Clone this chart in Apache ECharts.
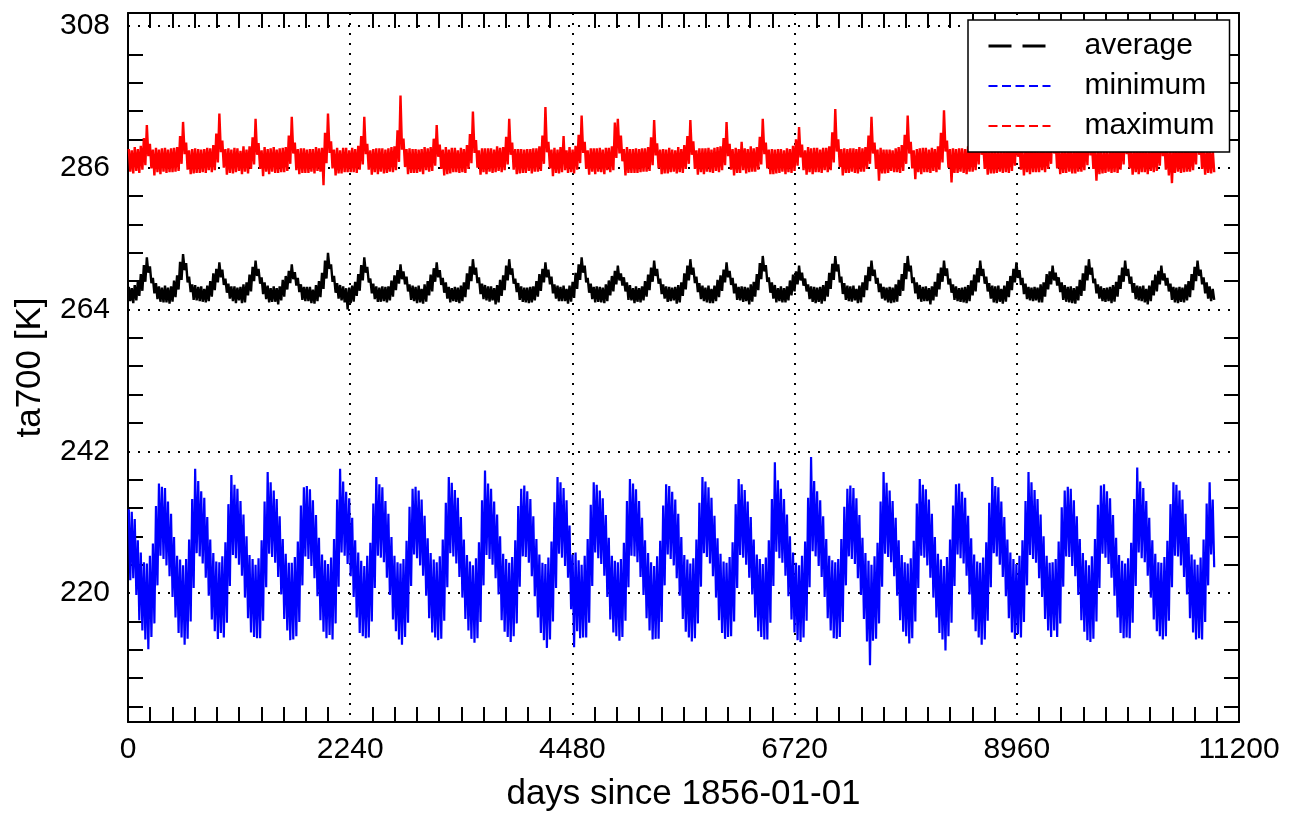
<!DOCTYPE html>
<html><head><meta charset="utf-8">
<script src="https://cdn.jsdelivr.net/npm/echarts@6/dist/echarts.min.js"></script>
<style>html,body{margin:0;padding:0;background:#fff}#chart{width:1293px;height:817px}</style>
</head><body><div id="chart"></div>
<script>
// ---- data: upper and lower edge of each month's daily band, Jan 1856 .. Dec 1885 ----
const xTickLabels = [0, 2240, 4480, 6720, 8960, 11200];
const yTickLabels = [220, 242, 264, 286, 308];
const seriesNames = ['average', 'minimum', 'maximum'];
const seriesColors = ['#000000', '#0000ff', '#ff0000'];

const averageUpper = [
267.5,267.3,267.8,268.3,269.5,270.9,272.1,270.7,268.9,268.1,267.6,267.4,
267.7,267.4,267.6,268.5,269.3,271.4,272.6,271.2,269.1,267.9,267.8,267.5,
267.6,267.2,267.7,268.4,269.6,270.3,271.3,270.2,268.8,268.0,267.6,267.6,
267.4,267.5,267.9,268.2,269.4,270.6,271.6,270.3,269.0,268.2,267.7,267.3,
267.6,267.3,267.6,268.6,269.2,270.0,271.0,269.8,268.9,267.9,267.5,267.5,
267.5,267.1,267.8,268.4,269.7,271.6,272.8,271.0,269.2,268.1,267.8,267.6,
267.3,267.4,267.7,268.3,269.5,270.9,272.1,270.6,268.8,268.0,267.6,267.4,
267.6,267.5,267.6,268.5,269.3,270.1,271.0,269.9,269.1,267.9,267.7,267.5,
267.7,267.2,267.9,268.4,269.4,270.4,271.3,270.1,268.9,268.2,267.5,267.3,
267.5,267.4,267.7,268.2,269.6,270.7,271.8,270.5,269.0,268.0,267.8,267.6,
267.6,267.3,267.8,268.6,269.3,270.8,271.8,270.4,268.8,268.1,267.6,267.4,
267.4,267.5,267.6,268.4,269.5,270.3,271.3,270.2,269.1,267.9,267.7,267.5,
267.7,267.2,267.7,268.3,269.7,271.0,272.1,270.8,268.9,268.0,267.5,267.6,
267.5,267.4,267.9,268.5,269.2,270.0,270.8,269.6,269.0,268.2,267.8,267.3,
267.6,267.3,267.6,268.4,269.4,270.5,271.6,270.3,268.8,267.9,267.6,267.5,
267.4,267.5,267.8,268.2,269.6,270.8,271.8,270.5,269.1,268.1,267.7,267.4,
267.7,267.2,267.7,268.6,269.3,270.2,271.3,270.0,268.9,268.0,267.5,267.6,
267.5,267.4,267.9,268.3,269.5,271.2,272.3,270.9,269.0,268.2,267.8,267.3,
267.6,267.3,267.6,268.5,269.4,269.9,270.8,269.7,268.8,267.9,267.6,267.5,
267.4,267.5,267.8,268.4,269.7,271.1,272.3,271.0,269.1,268.1,267.7,267.6,
267.7,267.2,267.7,268.2,269.3,270.6,271.6,270.2,268.9,268.0,267.5,267.4,
267.5,267.4,267.9,268.6,269.5,271.2,272.3,270.8,269.0,268.2,267.8,267.5,
267.6,267.3,267.6,268.3,269.6,270.5,271.6,270.4,268.8,267.9,267.6,267.3,
267.4,267.5,267.8,268.5,269.4,270.4,271.6,270.3,269.1,268.1,267.7,267.6,
267.7,267.2,267.7,268.4,269.2,270.3,271.3,270.1,268.9,268.0,267.5,267.4,
267.5,267.4,267.9,268.2,269.5,269.9,270.8,269.7,269.0,268.2,267.8,267.5,
267.6,267.3,267.6,268.6,269.6,270.8,271.8,270.5,268.8,267.9,267.6,267.3,
267.4,267.5,267.8,268.3,269.3,270.5,271.6,270.3,269.1,268.1,267.7,267.6,
267.7,267.2,267.7,268.5,269.4,270.0,270.8,269.6,268.9,268.0,267.5,267.4,
267.5,267.4,267.9,268.4,269.5,270.6,271.6,270.2,269.0,268.2,267.6,267.2
];
const averageLower = [
265.3,265.0,265.4,266.1,266.9,268.3,269.7,268.1,266.5,265.6,265.2,265.1,
265.1,264.9,265.2,265.9,267.1,268.6,270.1,268.2,266.7,265.5,265.4,265.3,
265.2,265.1,265.3,266.0,267.0,268.2,269.0,267.8,266.6,265.7,265.3,265.0,
265.4,265.0,265.1,266.2,266.8,268.4,269.2,268.0,266.4,265.6,265.1,265.2,
265.2,264.8,265.4,266.0,267.1,268.1,268.7,267.7,266.7,265.5,265.3,265.3,
265.0,264.9,265.3,265.9,267.2,268.8,270.3,268.3,266.6,265.7,265.4,265.1,
264.0,265.0,265.2,266.1,266.9,268.5,269.7,268.2,266.5,265.6,265.2,265.2,
265.3,265.1,265.4,266.0,267.0,268.0,268.7,267.9,266.8,265.5,265.3,265.0,
265.1,264.9,265.2,266.2,266.8,268.3,269.0,267.8,266.6,265.7,265.1,265.3,
265.2,265.0,265.3,265.9,267.1,268.4,269.4,268.1,266.4,265.6,265.4,265.2,
265.4,264.8,265.1,266.1,267.0,268.5,269.4,268.0,266.7,265.5,265.2,265.1,
265.0,265.1,265.4,266.0,266.9,268.2,269.0,267.9,266.5,265.7,265.3,265.3,
265.3,264.9,265.2,265.8,267.2,268.6,269.7,268.2,266.6,265.6,265.1,265.2,
265.1,265.0,265.3,266.2,266.8,267.9,268.5,267.7,266.8,265.5,265.4,265.0,
265.2,265.1,265.4,266.0,267.0,268.3,269.2,268.0,266.4,265.7,265.2,265.3,
265.4,264.9,265.1,266.1,267.1,268.5,269.4,268.1,266.7,265.6,265.3,265.1,
265.0,265.0,265.3,265.9,266.9,268.2,269.0,267.8,266.5,265.5,265.4,265.2,
265.3,264.8,265.2,266.0,267.0,268.7,269.9,268.3,266.6,265.7,265.1,265.3,
265.1,265.1,265.4,266.2,266.8,267.9,268.5,267.7,266.8,265.6,265.2,265.0,
265.2,264.9,265.3,266.0,267.2,268.6,269.9,268.2,266.4,265.5,265.3,265.2,
265.4,265.0,265.1,265.9,267.0,268.4,269.2,268.0,266.7,265.7,265.4,265.1,
265.0,265.1,265.2,266.1,266.9,268.7,269.9,268.1,266.5,265.6,265.2,265.3,
265.3,264.8,265.4,266.0,267.1,268.3,269.2,267.9,266.6,265.5,265.3,265.2,
265.1,265.0,265.3,266.2,266.8,268.2,269.2,268.0,266.8,265.7,265.1,265.0,
265.2,264.9,265.2,265.9,267.0,268.2,268.9,267.8,266.4,265.6,265.4,265.3,
265.4,265.1,265.1,266.0,267.1,267.9,268.5,267.7,266.7,265.5,265.2,265.1,
265.0,264.9,265.4,266.1,266.9,268.5,269.4,268.1,266.5,265.7,265.3,265.2,
265.3,265.0,265.2,266.0,267.2,268.3,269.2,268.0,266.6,265.6,265.4,265.3,
265.1,264.8,265.3,266.2,266.8,267.9,268.5,267.7,266.8,265.5,265.1,265.0,
265.2,265.1,265.4,265.9,267.0,268.4,269.2,267.9,266.5,265.7,265.3,265.5
];

const minimumUpper = [
233.0,232.6,231.5,228.2,226.3,224.8,224.6,225.8,227.7,233.5,237.0,236.5,
236.3,234.2,232.3,228.7,225.8,225.2,224.3,225.3,228.3,234.6,239.3,237.4,
235.8,234.8,231.8,228.3,226.2,224.9,224.8,225.7,227.9,233.8,238.3,236.8,
236.2,234.3,232.2,228.8,225.9,225.3,224.4,225.4,228.2,234.2,238.8,237.2,
235.9,234.6,231.9,228.4,226.1,224.7,224.7,225.6,228.0,233.6,236.4,236.6,
236.1,234.4,232.1,228.6,226.0,225.1,224.5,225.5,228.4,234.5,239.3,237.3,
235.7,234.7,231.7,228.2,226.3,225.0,224.2,225.8,227.8,233.9,238.0,236.9,
236.4,234.3,232.3,228.7,225.8,224.8,224.6,225.3,228.1,233.4,236.2,236.5,
235.9,234.5,232.0,228.5,226.2,225.2,224.8,225.7,228.3,234.0,238.0,237.1,
236.0,234.8,231.8,228.3,225.9,224.9,224.3,225.4,227.9,234.4,239.0,237.0,
236.2,234.2,232.2,228.8,226.1,225.3,224.7,225.6,228.2,233.5,236.2,236.7,
235.8,234.6,231.9,228.4,226.0,224.7,224.5,225.5,228.0,234.1,238.0,237.2,
236.3,234.4,230.5,226.0,226.3,225.1,224.4,225.8,228.4,233.7,237.2,236.8,
235.9,234.7,232.1,228.6,225.8,225.0,224.8,225.3,227.8,234.3,237.7,237.0,
236.1,234.3,231.7,228.2,226.2,224.8,224.2,225.7,228.1,233.6,236.9,236.6,
235.7,234.5,232.3,228.7,225.9,225.2,224.6,225.4,228.3,234.0,238.0,237.3,
236.4,234.8,232.0,228.5,226.1,224.9,224.7,225.6,227.9,233.8,237.7,236.9,
236.0,234.2,231.8,228.3,226.0,225.3,224.5,225.5,228.2,234.6,240.3,237.5,
236.2,234.6,232.2,228.8,226.3,224.7,224.3,225.8,228.0,234.8,241.1,237.4,
235.8,234.4,231.9,228.4,225.8,225.1,224.8,225.3,228.4,233.4,236.2,236.7,
236.3,234.7,232.1,228.6,226.2,225.0,224.4,225.7,227.8,234.2,238.8,237.1,
235.9,234.3,231.7,228.2,225.9,224.8,224.6,225.4,228.1,233.9,237.7,236.8,
236.1,234.5,232.3,228.7,226.1,225.2,224.2,225.6,228.3,233.6,236.9,237.0,
235.7,234.8,232.0,228.5,226.0,224.9,224.7,225.5,227.9,234.0,238.0,236.6,
236.4,234.2,231.8,228.3,226.3,225.3,224.5,225.8,228.2,234.3,238.8,237.2,
236.0,234.6,232.2,228.8,225.8,224.7,224.8,225.3,228.0,233.3,235.9,236.5,
236.2,234.4,231.9,228.4,226.2,225.1,224.3,225.7,228.4,233.7,236.7,236.9,
235.8,234.7,232.1,228.6,225.9,225.0,224.6,225.4,227.8,234.6,239.5,237.3,
236.3,234.3,231.7,228.2,226.1,224.8,224.7,225.6,228.1,233.8,237.2,236.8,
235.9,234.5,232.3,228.7,226.0,225.2,224.4,225.5,228.3,233.9,237.2,234.5
];
const minimumLower = [
222.0,222.3,219.7,215.8,214.2,212.8,211.3,213.2,215.3,221.2,225.8,225.3,
224.3,222.6,219.4,216.2,213.8,213.1,212.0,212.9,215.6,220.8,226.2,225.7,
224.6,222.4,219.6,215.9,214.1,212.9,213.8,213.1,215.4,221.1,225.9,225.4,
224.4,222.7,219.3,216.1,213.9,213.2,213.0,213.0,215.7,220.9,226.1,225.6,
224.7,222.5,219.8,216.0,214.2,212.7,212.8,213.3,215.5,221.2,225.7,225.3,
224.2,222.3,219.5,215.8,214.0,213.0,213.5,212.8,215.3,221.0,226.3,225.8,
224.5,222.6,219.4,216.2,213.8,213.3,213.0,213.1,215.6,220.8,225.8,225.5,
224.8,222.4,219.7,215.9,214.1,212.8,212.0,213.2,215.4,221.1,226.0,225.4,
224.3,222.7,219.6,216.1,213.9,213.1,212.7,212.9,215.7,220.9,226.2,225.7,
224.6,222.5,219.3,216.0,214.2,212.9,212.3,213.0,215.5,221.2,225.9,225.3,
224.4,222.3,219.8,215.8,214.0,213.2,212.4,213.3,215.3,221.0,225.7,225.6,
224.7,222.6,219.5,216.2,213.8,212.7,211.5,212.8,215.6,220.8,226.1,225.5,
224.2,222.4,217.5,211.6,214.1,213.0,213.1,213.1,215.4,221.1,226.3,225.4,
224.5,222.7,219.4,215.9,213.9,213.3,212.6,213.2,215.7,220.9,225.8,225.7,
224.8,222.5,219.7,216.1,214.2,212.8,212.9,212.9,215.5,221.2,226.0,225.3,
224.3,222.3,219.6,216.0,214.0,213.1,212.5,213.0,215.3,221.0,226.2,225.6,
224.6,222.6,219.3,215.8,213.8,212.9,213.2,213.3,215.6,220.8,225.9,225.5,
224.4,222.4,219.8,216.2,214.1,213.2,212.8,212.8,215.4,221.1,226.4,225.4,
224.7,222.7,219.5,215.9,213.9,212.7,212.4,213.1,215.7,220.9,226.5,225.7,
224.2,222.5,219.4,216.1,214.2,213.0,212.9,213.2,215.5,221.2,225.7,225.3,
224.5,222.3,219.7,216.0,212.5,208.8,212.6,212.9,215.3,221.0,226.1,225.6,
224.8,222.6,219.6,215.8,214.0,213.3,212.2,213.0,215.6,220.8,225.8,225.5,
224.3,222.4,219.3,216.2,213.8,212.8,211.1,213.3,215.4,221.1,226.0,225.4,
224.6,222.7,219.8,215.9,214.1,213.1,212.0,212.8,215.7,220.9,226.2,225.7,
224.4,222.5,219.5,216.1,213.9,212.9,213.6,213.1,215.5,221.2,225.9,225.3,
224.7,222.3,219.4,216.0,214.2,213.2,214.2,213.2,215.3,221.0,225.7,225.6,
224.2,222.6,219.7,215.8,214.0,212.7,212.4,212.9,215.6,220.8,226.1,225.5,
224.5,222.4,219.6,216.2,213.8,213.0,213.1,213.0,215.4,221.1,226.3,225.4,
224.8,222.7,219.3,215.9,214.1,213.3,212.8,213.3,215.7,220.9,225.8,225.7,
224.3,222.5,219.8,216.1,213.9,212.8,213.0,212.8,215.5,221.2,226.0,224.0
];

const maximumUpper = [
288.9,288.7,289.2,288.9,289.4,290.6,292.6,289.7,288.8,289.1,288.8,289.0,
289.1,288.8,289.0,289.1,289.2,290.9,293.1,289.9,288.7,288.9,289.0,288.9,
288.8,288.9,289.1,289.0,289.5,291.3,294.4,290.2,288.9,289.0,288.8,289.1,
289.0,288.6,289.3,288.8,289.3,290.7,293.6,289.8,288.7,289.2,288.9,289.0,
289.2,288.8,289.0,289.1,289.2,291.0,293.9,289.9,288.9,289.0,289.0,288.8,
288.9,288.9,289.2,289.0,289.1,291.4,294.4,290.1,288.8,289.1,288.7,289.1,
289.1,288.7,289.1,288.9,289.4,290.9,293.9,289.7,288.7,288.9,289.0,289.0,
289.0,288.8,289.0,289.2,289.3,291.8,297.2,290.5,288.9,289.0,288.9,288.9,
288.8,288.9,289.2,289.0,289.2,290.5,292.6,289.6,288.8,289.2,288.8,289.1,
289.1,288.7,289.1,288.9,289.5,291.2,294.7,290.3,288.7,289.0,289.0,289.0,
289.0,288.8,289.3,289.1,289.2,290.8,293.6,289.9,288.9,288.9,288.9,288.8,
288.9,288.9,289.0,289.0,289.3,291.0,295.4,290.0,288.8,289.1,288.8,289.2,
290.9,288.7,289.2,288.8,289.4,291.1,294.1,290.0,288.7,289.0,289.0,289.0,
289.1,288.8,289.1,289.1,289.3,293.0,293.6,291.0,288.9,289.2,288.9,288.9,
289.0,288.9,289.0,289.0,289.2,290.7,293.4,289.8,288.8,288.9,288.8,289.1,
288.8,288.7,289.2,288.9,289.5,290.9,293.4,290.1,288.7,289.0,289.0,289.0,
289.1,288.8,289.1,289.2,289.3,290.6,293.1,289.7,288.9,289.1,288.9,290.0,
289.0,288.9,289.3,289.0,289.2,290.8,293.6,289.9,288.8,288.9,288.8,288.9,
288.9,288.7,289.0,288.9,289.4,290.4,292.3,289.6,288.7,289.2,289.0,289.1,
289.1,288.8,289.1,289.1,289.3,291.5,295.1,290.4,288.9,289.0,288.9,289.0,
289.0,288.9,289.2,289.0,289.2,291.0,293.9,289.9,288.8,289.1,288.8,288.8,
288.8,288.7,289.0,289.2,289.5,291.1,294.1,290.0,288.7,288.9,289.0,289.1,
289.1,288.8,289.1,288.9,289.3,291.4,294.9,290.2,288.9,289.0,288.9,289.0,
289.0,288.9,289.3,289.1,289.2,290.8,293.5,289.8,288.8,289.2,288.8,288.9,
288.9,288.7,289.0,289.0,289.4,290.5,292.8,289.7,288.7,289.0,289.0,289.1,
289.1,288.8,289.2,288.9,289.3,291.1,294.0,290.0,288.9,288.9,288.9,289.0,
289.0,288.9,289.1,289.2,289.2,290.7,293.2,289.8,288.8,289.1,288.8,288.8,
288.8,288.7,289.3,289.0,289.5,290.9,293.8,289.9,288.7,289.0,289.0,289.1,
289.1,288.8,289.0,289.1,289.3,290.6,292.9,289.7,288.9,289.2,288.9,289.0,
289.0,288.9,289.2,288.9,289.2,290.8,293.5,289.9,288.8,289.0,288.8,288.9
];
const maximumLower = [
285.4,285.1,285.5,285.2,285.7,286.4,287.8,285.9,284.8,285.3,285.0,285.4,
285.2,285.3,285.3,285.4,285.5,286.6,288.1,285.7,285.0,285.1,285.2,285.2,
285.3,285.2,285.6,285.3,285.6,286.8,288.4,286.0,284.9,285.2,285.1,285.3,
285.5,285.0,285.4,285.1,285.8,286.5,288.0,285.8,284.7,285.4,285.0,285.4,
285.2,285.2,285.3,285.3,285.5,286.6,288.2,285.6,285.0,285.2,285.2,285.2,
285.4,285.1,285.5,285.4,283.3,286.7,288.3,285.9,284.8,285.1,285.1,285.3,
285.3,285.3,285.3,285.2,285.7,286.5,288.1,285.7,284.9,285.3,285.0,285.4,
285.1,285.2,285.4,285.3,285.6,286.9,288.8,286.1,285.0,285.2,285.2,285.2,
285.4,285.0,285.6,285.4,285.5,286.3,287.7,285.8,284.8,285.0,285.1,285.3,
285.3,285.2,285.3,285.2,285.8,286.7,288.3,286.0,284.9,285.3,285.0,285.4,
285.2,285.3,285.5,285.3,285.6,286.5,288.0,285.7,285.0,285.1,285.2,285.2,
285.5,285.1,285.4,285.4,285.5,286.6,288.4,285.9,284.7,285.2,285.1,285.3,
285.6,285.2,285.3,285.1,285.7,286.7,288.3,285.8,284.9,285.4,285.0,285.4,
285.3,285.0,285.6,285.3,285.6,287.5,288.2,287.0,284.8,285.2,285.2,285.2,
285.2,285.3,285.4,285.4,285.5,286.4,287.9,285.9,285.0,285.1,285.1,285.3,
285.4,285.1,285.3,285.2,285.8,286.6,288.0,285.8,284.9,285.3,285.0,285.4,
285.3,285.2,285.5,285.3,285.6,286.4,287.8,285.7,284.8,285.2,285.2,285.6,
285.1,285.3,285.4,285.4,285.7,286.5,288.1,285.9,285.0,285.0,285.1,285.2,
285.4,285.0,285.3,285.2,285.5,286.3,287.6,285.6,284.9,285.3,285.0,285.3,
285.3,285.2,285.6,285.3,285.6,286.8,288.5,286.1,284.8,285.2,285.2,285.4,
285.2,285.1,285.4,285.4,285.8,286.6,288.2,285.8,284.0,285.1,285.1,285.2,
285.5,285.3,285.3,285.2,285.5,286.6,288.2,285.9,284.2,285.3,285.0,285.3,
285.3,285.2,285.5,285.3,285.7,286.8,288.5,286.0,283.7,285.2,285.2,285.4,
285.2,285.0,285.4,285.4,285.6,286.5,288.0,285.8,284.9,285.1,285.1,285.2,
285.4,285.2,285.3,285.2,285.5,286.3,287.7,285.7,284.8,285.3,285.0,285.3,
285.3,285.3,285.6,285.3,285.8,286.6,288.2,285.9,285.0,285.2,285.2,285.4,
285.1,285.1,285.4,285.4,285.6,286.4,287.9,285.8,284.0,285.0,285.1,285.2,
285.4,285.2,285.3,285.2,285.7,286.5,288.1,285.9,284.9,285.3,285.0,285.3,
285.3,285.0,285.5,285.3,285.5,286.3,287.8,285.7,284.8,283.6,285.2,285.4,
285.2,285.3,285.4,285.4,285.6,286.5,288.0,285.8,284.9,285.2,285.1,285.3
];

// sample positions in days since 1856-01-01: two per month,
// the upper edge of the month's band first, then the lower edge (daily noise)
const daysPerMonth = 365.25 / 12;
function monthlyPairs(upper, lower) {
  const out = [];
  for (let i = 0; i < upper.length; i++) {
    out.push([Math.round((i + 0.25) * daysPerMonth), upper[i]]);
    out.push([Math.round((i + 0.75) * daysPerMonth), lower[i]]);
  }
  return out;
}

// ---- helpers ----
function minorBetween(ticks, n) {
  const out = [];
  for (let k = 0; k < ticks.length - 1; k++) {
    const a = ticks[k], b = ticks[k + 1];
    for (let j = 1; j < n; j++) out.push(+(a + (b - a) * j / n).toFixed(4));
  }
  return out;
}
const Y_MIN = 200, Y_MAX = 310, X_MIN = 0, X_MAX = 11200;
const xMinor = minorBetween(xTickLabels, 10);
const yStep = (yTickLabels[1] - yTickLabels[0]) / 5;
const yMinor = [];
for (let v = yTickLabels[0] - yStep; v > Y_MIN; v -= yStep) yMinor.unshift(+v.toFixed(4));
yMinor.push(...minorBetween(yTickLabels, 5));

const FONT = '"Liberation Sans", Arial, Helvetica, sans-serif';
const black = '#000';
const tickStyle = { show: true, inside: true, length: 15, lineStyle: { color: black, width: 2 } };
const dotted = { show: true, lineStyle: { color: black, width: 2, type: [2, 8] } };
const plain = v => String(v);

const chart = echarts.init(document.getElementById('chart'), null, { renderer: 'canvas' });

const allData = [
  monthlyPairs(averageUpper, averageLower),
  monthlyPairs(minimumUpper, minimumLower),
  monthlyPairs(maximumUpper, maximumLower)
];
const lineWidths = [2.4, 2.2, 2.4];
const legendDash = [[23, 11], [9, 4.5], [9, 4.5]];
const legendWidth = [3, 2, 2];

chart.setOption({
  animation: false,
  backgroundColor: '#fff',
  textStyle: { fontFamily: FONT, color: black },
  grid: { left: 128, right: 54, top: 13, bottom: 91, containLabel: false },
  xAxis: [
    { type: 'value', position: 'bottom', min: X_MIN, max: X_MAX, interval: xTickLabels[1] - xTickLabels[0],
      axisLine: { show: true, onZero: false, lineStyle: { color: black, width: 2 } },
      axisTick: { show: false },
      axisLabel: { show: true, fontSize: 30, color: black, margin: 13, fontFamily: FONT, formatter: plain },
      splitLine: dotted,
      name: 'days since 1856-01-01', nameLocation: 'middle', nameGap: 55,
      nameTextStyle: { fontSize: 35, color: black, fontFamily: FONT } },
    { type: 'value', position: 'bottom', min: X_MIN, max: X_MAX,
      axisLine: { show: false, onZero: false }, axisLabel: { show: false }, splitLine: { show: false },
      axisTick: Object.assign({ customValues: xMinor }, tickStyle) },
    { type: 'value', position: 'top', min: X_MIN, max: X_MAX,
      axisLine: { show: true, onZero: false, lineStyle: { color: black, width: 2 } },
      axisLabel: { show: false }, splitLine: { show: false },
      axisTick: Object.assign({ customValues: xMinor }, tickStyle) }
  ],
  yAxis: [
    { type: 'value', position: 'left', min: Y_MIN, max: Y_MAX,
      axisLine: { show: true, onZero: false, lineStyle: { color: black, width: 2 } },
      axisTick: { show: false, customValues: yTickLabels },
      axisLabel: { show: true, customValues: yTickLabels, fontSize: 30, color: black, margin: 18, fontFamily: FONT, formatter: plain },
      splitLine: dotted,
      name: 'ta700 [K]', nameLocation: 'middle', nameGap: 80,
      nameTextStyle: { fontSize: 35, color: black, fontFamily: FONT } },
    { type: 'value', position: 'left', min: Y_MIN, max: Y_MAX,
      axisLine: { show: false, onZero: false }, axisLabel: { show: false }, splitLine: { show: false },
      axisTick: Object.assign({ customValues: yMinor }, tickStyle) },
    { type: 'value', position: 'right', min: Y_MIN, max: Y_MAX,
      axisLine: { show: true, onZero: false, lineStyle: { color: black, width: 2 } },
      axisLabel: { show: false }, splitLine: { show: false },
      axisTick: Object.assign({ customValues: yMinor }, tickStyle) }
  ],
  legend: {
    orient: 'vertical', left: 968, top: 20,
    padding: [11, 15, 11, 19],
    itemWidth: 62, itemHeight: 14, itemGap: 10,
    backgroundColor: '#fff', borderColor: black, borderWidth: 1.5, borderRadius: 0,
    textStyle: { fontSize: 30, color: black, lineHeight: 30, fontFamily: FONT, padding: [0, 0, 0, 29] },
    selectedMode: false,
    data: seriesNames.map((n, k) => ({
      name: n,
      itemStyle: { opacity: 0, borderWidth: 0 },
      lineStyle: { type: legendDash[k], width: legendWidth[k], color: seriesColors[k] }
    }))
  },
  series: seriesNames.map((n, k) => ({
    name: n, type: 'line', xAxisIndex: 0, yAxisIndex: 0,
    data: allData[k],
    symbol: 'none', showSymbol: false, sampling: 'none',
    lineStyle: { color: seriesColors[k], width: lineWidths[k] },
    itemStyle: { color: seriesColors[k] },
    z: 3
  }))
});
</script></body></html>
